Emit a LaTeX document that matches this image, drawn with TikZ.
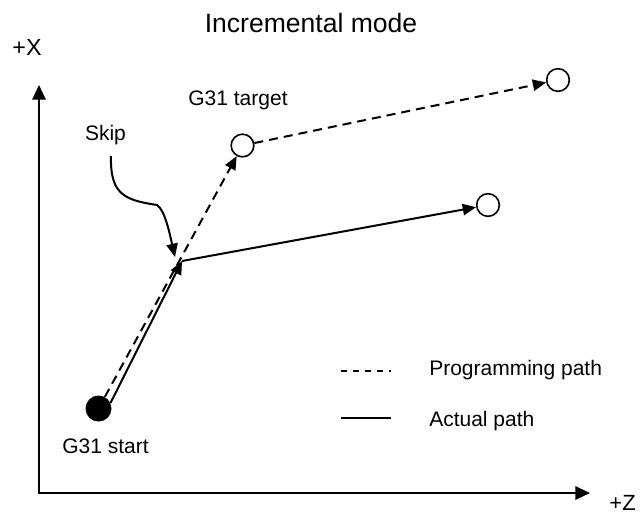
\documentclass[tikz,border=0pt]{standalone}
\usepackage{fontspec}
\setmainfont{Liberation Sans}
\usetikzlibrary{arrows.meta}
\tikzset{
  tip/.style={-{Triangle[length=10pt,width=8.5pt]}},
  axis/.style={line width=1.5pt,{Triangle[length=11pt,width=10pt]}-{Triangle[length=11pt,width=10pt]}},
  prog/.style={line width=1.5pt,dash pattern=on 6.75pt off 4.5pt},
  actual/.style={line width=1.5pt},
  legline/.style={line width=1pt},
  ring/.style={circle,draw,line width=1.2pt,minimum size=17pt,inner sep=0pt},
  startdot/.style={circle,fill,minimum size=19.5pt,inner sep=0pt},
  txt/.style={font=\fontsize{15.75}{18}\selectfont,inner sep=0pt,anchor=base},
  big/.style={font=\fontsize{17.5}{20}\selectfont,inner sep=0pt,anchor=base}
}

\begin{document}
\begin{tikzpicture}[x=0.75pt,y=-0.75pt]
\useasboundingbox (0,0) rectangle (642,515);

% axes
\coordinate (origin) at (39,493);
\coordinate (xtip) at (590,493);
\coordinate (ytip) at (39,85);
\draw[axis] (ytip) -- (origin) -- (xtip);
\node[big] (xlbl) at (27,55) {+X};
\node[big,font=\fontsize{16.5}{19}\selectfont,anchor=base east] (zlbl) at (636,510) {+Z};
\node[inner sep=0pt,anchor=base,font=\fontsize{19.9}{22}\selectfont] (title) at (311,32) {Incremental mode};

% points
\node[startdot] (start) at (98.5,408.5) {};
\node[ring] (target) at (242.5,145.5) {};
\node[ring] (progend) at (558,80) {};
\node[ring] (actend) at (488,205) {};
\coordinate (skip) at (182,261);
\coordinate (skiphit) at (175,257);
\coordinate (skiptail) at (111,156);

% programming path
\draw[prog,tip] (start) -- (target);
\draw[prog,tip] (target) -- (progend);

% actual path
\draw[actual,tip] (start.25) -- (skip);
\draw[actual,tip] (skip) -- (actend);

% skip marker
\draw[actual,tip] (skiptail) .. controls (110,195) and (125,200) .. (157,205)
  .. controls (165,210) and (170,235) .. (skiphit);

% labels
\node[txt] (skiplbl) at (105.5,140) {Skip};
\node[txt] (targetlbl) at (238,105) {G31 target};
\node[txt] (startlbl) at (105.5,453) {G31 start};

% legend
\coordinate (pa) at (341,371);
\coordinate (pb) at (391,371);
\coordinate (aa) at (341,418);
\coordinate (ab) at (391,418);
\draw[legline,dash pattern=on 4.5pt off 4.5pt] (pa) -- (pb);
\draw[legline] (aa) -- (ab);
\node[txt,anchor=base west] (proglbl) at (429,375) {Programming path};
\node[txt,anchor=base west] (actlbl) at (429,426) {Actual path};

\end{tikzpicture}
\end{document}
